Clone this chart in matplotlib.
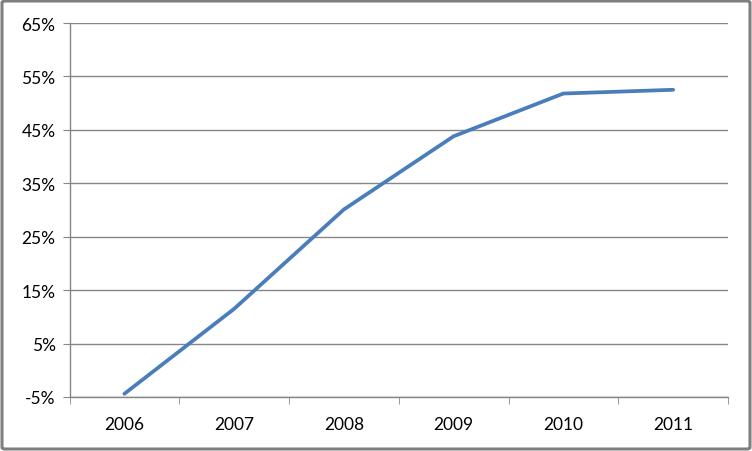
import matplotlib.pyplot as plt
from matplotlib.patches import FancyBboxPatch
from matplotlib.ticker import FixedLocator

years = ['2006', '2007', '2008', '2009', '2010', '2011']
values = [-4.4, 11.5, 30.1, 43.8, 51.8, 52.5]
yticks = [-5, 5, 15, 25, 35, 45, 55, 65]

plt.rcParams['font.family'] = ['Lato', 'DejaVu Sans']
grid_col = '#868686'

fig = plt.figure(figsize=(7.52, 4.52), dpi=100)
ax = fig.add_axes([69.5 / 752, 1 - 398 / 452, (728 - 69.5) / 752, (398 - 24) / 452])

x = list(range(len(years)))
ax.plot(x, values, color='#4A7EBB', lw=2.7, solid_capstyle='round', solid_joinstyle='round', zorder=3)

ax.set_xlim(-0.5, len(years) - 0.5)
ax.set_ylim(-5, 65)
ax.set_yticks(yticks)
ax.set_yticklabels([f'{v}%' for v in yticks])
ax.set_xticks(x)
ax.set_xticklabels(years)
ax.xaxis.set_minor_locator(FixedLocator([i - 0.5 for i in range(len(years) + 1)]))

ax.yaxis.grid(True, color=grid_col, lw=1)
ax.set_axisbelow(True)
for s in ['top', 'right']:
    ax.spines[s].set_visible(False)
for s in ['left', 'bottom']:
    ax.spines[s].set_color(grid_col)
    ax.spines[s].set_linewidth(1)

ax.tick_params(axis='y', length=5, color=grid_col, pad=5, labelsize=12.5)
ax.tick_params(axis='x', which='major', length=0, pad=14, labelsize=12.5)
ax.tick_params(axis='x', which='minor', length=5, color=grid_col)

border = FancyBboxPatch((2 / 752, 2 / 452), 748 / 752, 448 / 452,
                        boxstyle='round,pad=0,rounding_size=0.004',
                        transform=fig.transFigure, fill=False,
                        edgecolor='#7f7f7f', lw=2.2)
fig.patches.append(border)

fig.savefig('out.png', dpi=100)
